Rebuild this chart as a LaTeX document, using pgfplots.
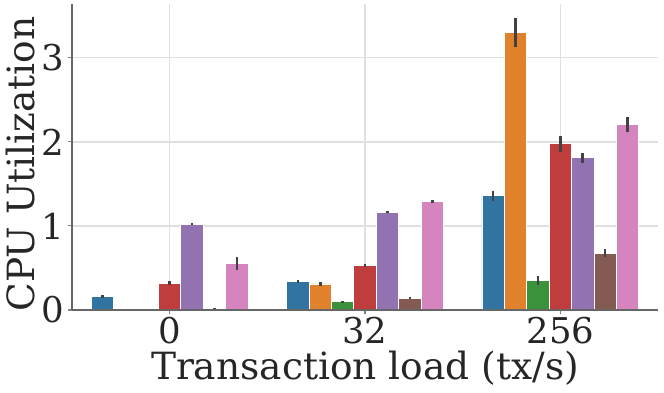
\documentclass[border=0pt]{standalone}
\usepackage{fontspec}
\setmainfont{DejaVu Serif}
\usepackage{pgfplots}
\pgfplotsset{compat=1.18}

\definecolor{sbblue}{HTML}{3274A1}
\definecolor{sborange}{HTML}{E1812C}
\definecolor{sbgreen}{HTML}{3A923A}
\definecolor{sbred}{HTML}{C03D3E}
\definecolor{sbpurple}{HTML}{9372B2}
\definecolor{sbbrown}{HTML}{845B53}
\definecolor{sbpink}{HTML}{D684BD}
\definecolor{errgray}{HTML}{424242}
\definecolor{txtgray}{HTML}{262626}

\begin{document}
\begin{tikzpicture}
\useasboundingbox (-72bp,-83bp) rectangle (592bp,310bp);
\begin{axis}[
    at={(0,0)}, anchor=south west,
    scale only axis, width=586bp, height=306bp,
    clip=false,
    ybar=0pt, bar width=22.4bp,
    xmin=-0.5, xmax=2.5, ymin=0, ymax=3.64,
    xtick={0,1,2}, xticklabels={0,32,256},
    ytick={0,1,2,3},
    axis x line=bottom, axis y line=left,
    axis line style={-, draw=black!60, line width=1.3bp},
    grid=major, major grid style={draw=black!12, line width=1.3bp},
    tick align=outside, major tick length=4bp,
    tick style={draw=black!50, line width=1.1bp},
    ticklabel style={font=\fontsize{35.5bp}{42bp}\selectfont, text=txtgray},
    label style={font=\fontsize{37.5bp}{44bp}\selectfont, text=txtgray},
    /pgf/number format/assume math mode=true,
    xlabel={Transaction load (tx/s)},
    ylabel={CPU Utilization},
    ylabel style={xshift=-7bp},
    bstyle/.style={draw=white, line width=0.8bp,
        error bars/y dir=both, error bars/y explicit,
        error bars/error mark=none,
        error bars/error bar style={draw=errgray, line width=2.6bp}},
]
\addplot[bstyle, fill=sbblue] coordinates {
    (0,0.158) +- (0,0.02)
    (1,0.34)  +- (0,0.02)
    (2,1.36)  +- (0,0.06)
};
\addplot[bstyle, fill=sborange] coordinates {
    (0,0.01)  +- (0,0.006)
    (1,0.31)  +- (0,0.02)
    (2,3.30)  +- (0,0.17)
};
\addplot[bstyle, fill=sbgreen] coordinates {
    (0,0.006) +- (0,0.005)
    (1,0.10)  +- (0,0.01)
    (2,0.35)  +- (0,0.05)
};
\addplot[bstyle, fill=sbred] coordinates {
    (0,0.32) +- (0,0.02)
    (1,0.53) +- (0,0.015)
    (2,1.98) +- (0,0.095)
};
\addplot[bstyle, fill=sbpurple] coordinates {
    (0,1.02) +- (0,0.01)
    (1,1.16) +- (0,0.012)
    (2,1.81) +- (0,0.06)
};
\addplot[bstyle, fill=sbbrown] coordinates {
    (0,0.02)  +- (0,0.006)
    (1,0.14)  +- (0,0.01)
    (2,0.675) +- (0,0.045)
};
\addplot[bstyle, fill=sbpink] coordinates {
    (0,0.555) +- (0,0.075)
    (1,1.29)  +- (0,0.015)
    (2,2.21)  +- (0,0.09)
};
% baseline spine redrawn over the bars
\addplot[sharp plot, forget plot, draw=black!60, line width=1.3bp, fill=none]
    coordinates {(-0.5,0) (2.5,0)};
\end{axis}
\end{tikzpicture}
\end{document}
